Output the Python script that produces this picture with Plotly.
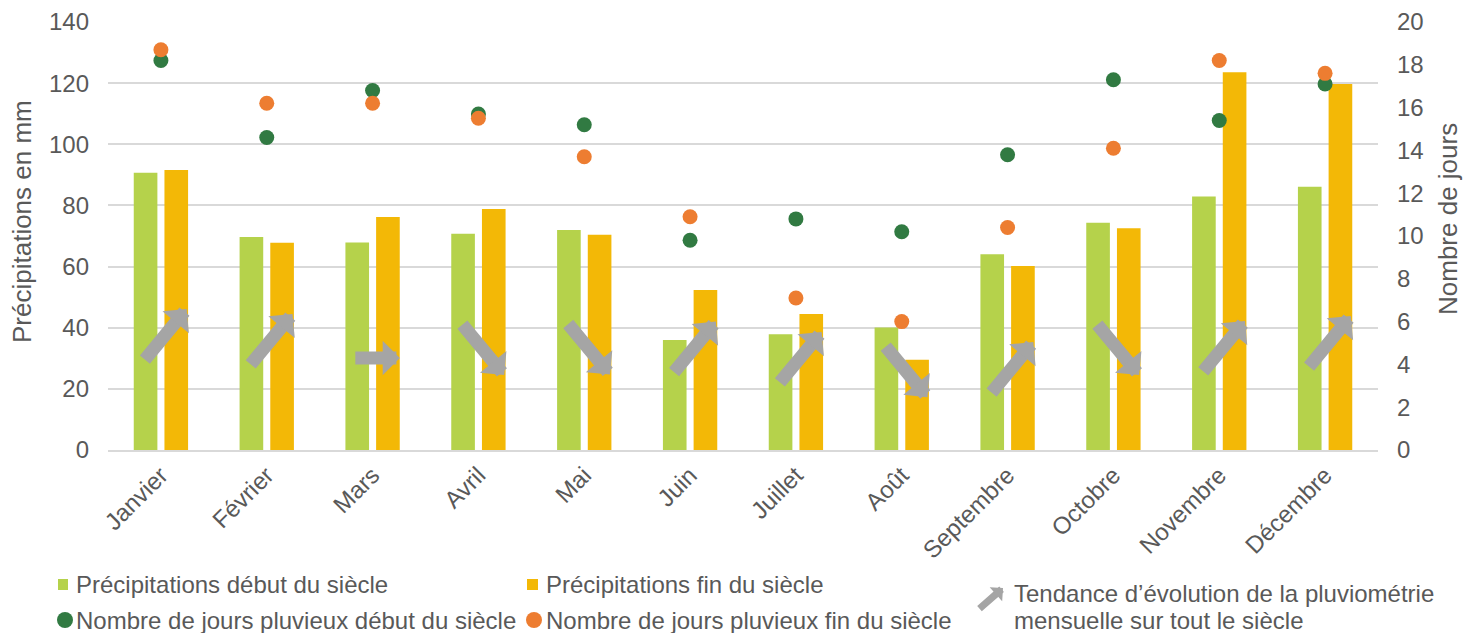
import plotly.graph_objects as go

# Monthly data
months = ["Janvier", "Février", "Mars", "Avril", "Mai", "Juin",
          "Juillet", "Août", "Septembre", "Octobre", "Novembre", "Décembre"]
precip_debut = [90.7, 69.7, 67.9, 70.7, 72.0, 36.0, 37.9, 40.1, 64.0, 74.3, 82.9, 86.1]
precip_fin = [91.6, 67.8, 76.2, 78.8, 70.4, 52.3, 44.5, 29.5, 60.2, 72.5, 123.6, 119.7]
jours_debut = [18.2, 14.6, 16.8, 15.7, 15.2, 9.8, 10.8, 10.2, 13.8, 17.3, 15.4, 17.1]
jours_fin = [18.7, 16.2, 16.2, 15.5, 13.7, 10.9, 7.1, 6.0, 10.4, 14.1, 18.2, 17.6]
tendance = ["hausse", "hausse", "stable", "baisse", "baisse", "hausse",
            "hausse", "baisse", "hausse", "baisse", "hausse", "hausse"]

# Vertical placement of each trend arrow (centre, in mm)
arrow_level = [37.6, 36.0, 30.1, 33.0, 33.2, 33.5, 30.1, 25.8, 26.8, 33.0, 33.7, 35.3]

# Styling
C_VERT = "#B5D24B"
C_JAUNE = "#F3B806"
C_VERT_F = "#317A42"
C_ORANGE = "#ED7D31"
C_GRIS = "#A5A5A5"
C_TEXTE = "#595959"
C_GRILLE = "#D9D9D9"
FONT = "Liberation Sans, Arial, sans-serif"

W, H = 1464, 633
ML, MR, MT, MB = 108, 86, 22, 183
PW, PH = W - ML - MR, H - MT - MB
Y1_MAX, Y2_MAX = 140, 20
CAT_PX = PW / len(months)
PX_PER_MM = PH / Y1_MAX


def px_x(px):
    return (px - ML) / PW


def px_y(py):
    return (H - MB - py) / PH


tick_font = dict(family=FONT, size=24, color=C_TEXTE)
title_font = dict(family=FONT, size=26, color=C_TEXTE)
leg_font = dict(family=FONT, size=24, color=C_TEXTE)

fig = go.Figure()
fig.add_trace(go.Bar(x=months, y=precip_debut, name="Précipitations début du siècle",
                     marker=dict(color=C_VERT, line=dict(width=0)), yaxis="y"))
fig.add_trace(go.Bar(x=months, y=precip_fin, name="Précipitations fin du siècle",
                     marker=dict(color=C_JAUNE, line=dict(width=0)), yaxis="y"))
fig.add_trace(go.Scatter(x=months, y=jours_debut, mode="markers",
                         name="Nombre de jours pluvieux début du siècle",
                         marker=dict(color=C_VERT_F, size=15), yaxis="y2"))
fig.add_trace(go.Scatter(x=months, y=jours_fin, mode="markers",
                         name="Nombre de jours pluvieux fin du siècle",
                         marker=dict(color=C_ORANGE, size=15), yaxis="y2"))

# Trend arrows: vector (dx, dy) in pixels for each direction
vecteurs = {"hausse": (43, -52), "baisse": (43, 52), "stable": (46, 0)}
for i, (t, lvl) in enumerate(zip(tendance, arrow_level)):
    dx, dy = vecteurs[t]
    tip_x = i + 0.04 + (dx / 2) / CAT_PX
    tip_y = lvl - (dy / 2) / PX_PER_MM
    fig.add_annotation(x=tip_x, y=tip_y, xref="x", yref="y", ax=-dx, ay=-dy,
                       text="", showarrow=True, arrowhead=1, arrowsize=0.44,
                       arrowwidth=13, arrowcolor=C_GRIS, standoff=0)

# Axis titles
fig.add_annotation(x=px_x(22), y=px_y(222), xref="paper", yref="paper",
                   text="Précipitations en mm", textangle=-90, showarrow=False,
                   xanchor="center", yanchor="middle", font=title_font)
fig.add_annotation(x=px_x(1448), y=px_y(219), xref="paper", yref="paper",
                   text="Nombre de jours", textangle=-90, showarrow=False,
                   xanchor="center", yanchor="middle", font=title_font)

# Custom legend
row1, row2 = 584, 620
fig.add_shape(type="rect", xref="paper", yref="paper",
              x0=px_x(58), x1=px_x(68), y0=px_y(590), y1=px_y(579),
              fillcolor=C_VERT, line=dict(width=0))
fig.add_shape(type="rect", xref="paper", yref="paper",
              x0=px_x(527), x1=px_x(538), y0=px_y(590), y1=px_y(579),
              fillcolor=C_JAUNE, line=dict(width=0))
fig.add_shape(type="circle", xref="paper", yref="paper",
              x0=px_x(57), x1=px_x(73), y0=px_y(row2 + 8), y1=px_y(row2 - 8),
              fillcolor=C_VERT_F, line=dict(width=0))
fig.add_shape(type="circle", xref="paper", yref="paper",
              x0=px_x(526), x1=px_x(542), y0=px_y(row2 + 8), y1=px_y(row2 - 8),
              fillcolor=C_ORANGE, line=dict(width=0))
legend_items = [
    (74, row1, "Précipitations début du siècle"),
    (544, row1, "Précipitations fin du siècle"),
    (74, row2, "Nombre de jours pluvieux début du siècle"),
    (544, row2, "Nombre de jours pluvieux fin du siècle"),
    (1012, 593, "Tendance d’évolution de la pluviométrie"),
    (1012, 620, "mensuelle sur tout le siècle"),
]
for x, y, s in legend_items:
    fig.add_annotation(x=px_x(x), y=px_y(y), xref="paper", yref="paper",
                       xanchor="left", yanchor="middle", text=s, showarrow=False,
                       font=leg_font)
fig.add_annotation(x=px_x(1003), y=px_y(588), xref="paper", yref="paper",
                   ax=-25, ay=22, text="", showarrow=True, arrowhead=1,
                   arrowsize=0.45, arrowwidth=7, arrowcolor=C_GRIS, standoff=0)

fig.update_layout(
    width=W, height=H,
    margin=dict(l=ML, r=MR, t=MT, b=MB, autoexpand=False),
    paper_bgcolor="white", plot_bgcolor="white",
    barmode="group", bargap=0.42, bargroupgap=0.23,
    showlegend=False,
    font=tick_font,
    xaxis=dict(type="category", tickangle=-45, showgrid=False, showline=True,
               linecolor=C_GRILLE, linewidth=1.5, ticks="",
               tickfont=tick_font, range=[-0.5, 11.5]),
    yaxis=dict(range=[0, Y1_MAX], dtick=20, showgrid=True, gridcolor=C_GRILLE,
               gridwidth=1.5, zeroline=False, ticks="", tickfont=tick_font,
               ticklabelstandoff=18),
    yaxis2=dict(range=[0, Y2_MAX], dtick=2, overlaying="y", side="right",
                showgrid=False, zeroline=False, ticks="", tickfont=tick_font,
                ticklabelstandoff=18),
)

fig.write_html("out.html")
